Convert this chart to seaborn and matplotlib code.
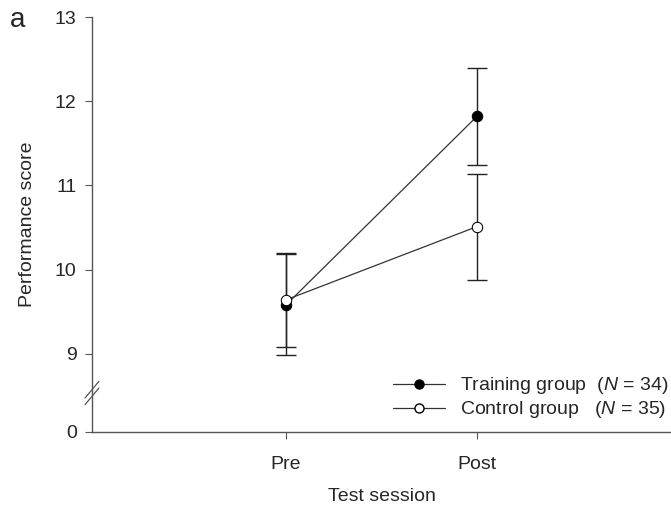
import numpy as np
import pandas as pd
import matplotlib
matplotlib.use("Agg")
import matplotlib.pyplot as plt
import seaborn as sns
from matplotlib.lines import Line2D

sessions = ["Pre", "Post"]
training_mean = [9.58, 11.82]
training_err = [0.60, 0.58]
control_mean = [9.64, 10.51]
control_err = [0.56, 0.63]
y_ticks = [9, 10, 11, 12, 13]
group_labels = [r"Training group  ($\mathit{N}$ = 34)", r"Control group   ($\mathit{N}$ = 35)"]

sns.set_theme(style="ticks")
plt.rcParams['font.family'] = ['Liberation Sans', 'DejaVu Sans']
plt.rcParams['mathtext.fontset'] = 'custom'
plt.rcParams['mathtext.it'] = 'Liberation Sans:italic'
plt.rcParams['mathtext.rm'] = 'Liberation Sans'

FS = 14
fig = plt.figure(figsize=(6.71, 5.12), dpi=100)
ax = fig.add_axes([92/671, 1-432/512, 1-92/671, (432-17)/512])

df = pd.DataFrame({
    "x": [0, 1, 0, 1],
    "score": training_mean + control_mean,
    "group": [group_labels[0]]*2 + [group_labels[1]]*2,
})

line_col = "#333333"
sns.lineplot(data=df, x="x", y="score", hue="group", style="group",
             palette=[line_col, line_col], markers=["o", "o"], dashes=False,
             linewidth=0.9, markersize=7.5, ax=ax, legend=False)

lines = ax.get_lines()
lines[0].set_markerfacecolor("black"); lines[0].set_markeredgecolor("black")
lines[1].set_markerfacecolor("white"); lines[1].set_markeredgecolor("black")
for l in lines:
    l.set_zorder(3)

xs = np.arange(len(sessions))
ax.errorbar(xs, training_mean, yerr=training_err, fmt="none", ecolor="#222222",
            elinewidth=1.0, capsize=7, capthick=1.0, zorder=2)
ax.errorbar(xs, control_mean, yerr=control_err, fmt="none", ecolor="#222222",
            elinewidth=1.0, capsize=7, capthick=1.0, zorder=2)

ybot = 8.07
ax.set_ylim(ybot, 13)
ax.set_xlim(-1.016, 2.016)
ax.set_yticks([ybot] + y_ticks)
ax.set_yticklabels(["0"] + [str(t) for t in y_ticks])
ax.set_xticks(xs)
ax.set_xticklabels(sessions)
ax.tick_params(axis="both", labelsize=FS, length=5, width=0.8, color="#555555", pad=6)
ax.tick_params(axis="x", pad=12)

for s in ["top", "right"]:
    ax.spines[s].set_visible(False)
for s in ["left", "bottom"]:
    ax.spines[s].set_color("#555555")
    ax.spines[s].set_linewidth(1.0)

ax.set_xlabel("Test session", fontsize=FS, labelpad=11)
ax.set_ylabel("Performance score", fontsize=FS, labelpad=14)

# axis break marks
trans = ax.transAxes
for dy in (0.0, 0.016):
    y0 = (432-388)/415 - 0.01 + dy
    ax.plot([-0.012, 0.012], [y0 - 0.03, y0 + 0.01], transform=trans, color="#555555",
            lw=0.9, clip_on=False)

h1 = Line2D([], [], color=line_col, lw=0.9, marker="o", markersize=6.5,
            markerfacecolor="black", markeredgecolor="black")
h2 = Line2D([], [], color=line_col, lw=0.9, marker="o", markersize=6.5,
            markerfacecolor="white", markeredgecolor="black")
ax.legend([h1, h2], group_labels, loc="lower right", bbox_to_anchor=(1.015, 0.0),
          frameon=False, fontsize=FS, handlelength=2.7, handletextpad=0.75,
          labelspacing=0.15, borderaxespad=0.2)

fig.text(18/671, 1-20/512, "a", fontsize=20, ha="center", va="center")

fig.savefig("out.png", dpi=100)
